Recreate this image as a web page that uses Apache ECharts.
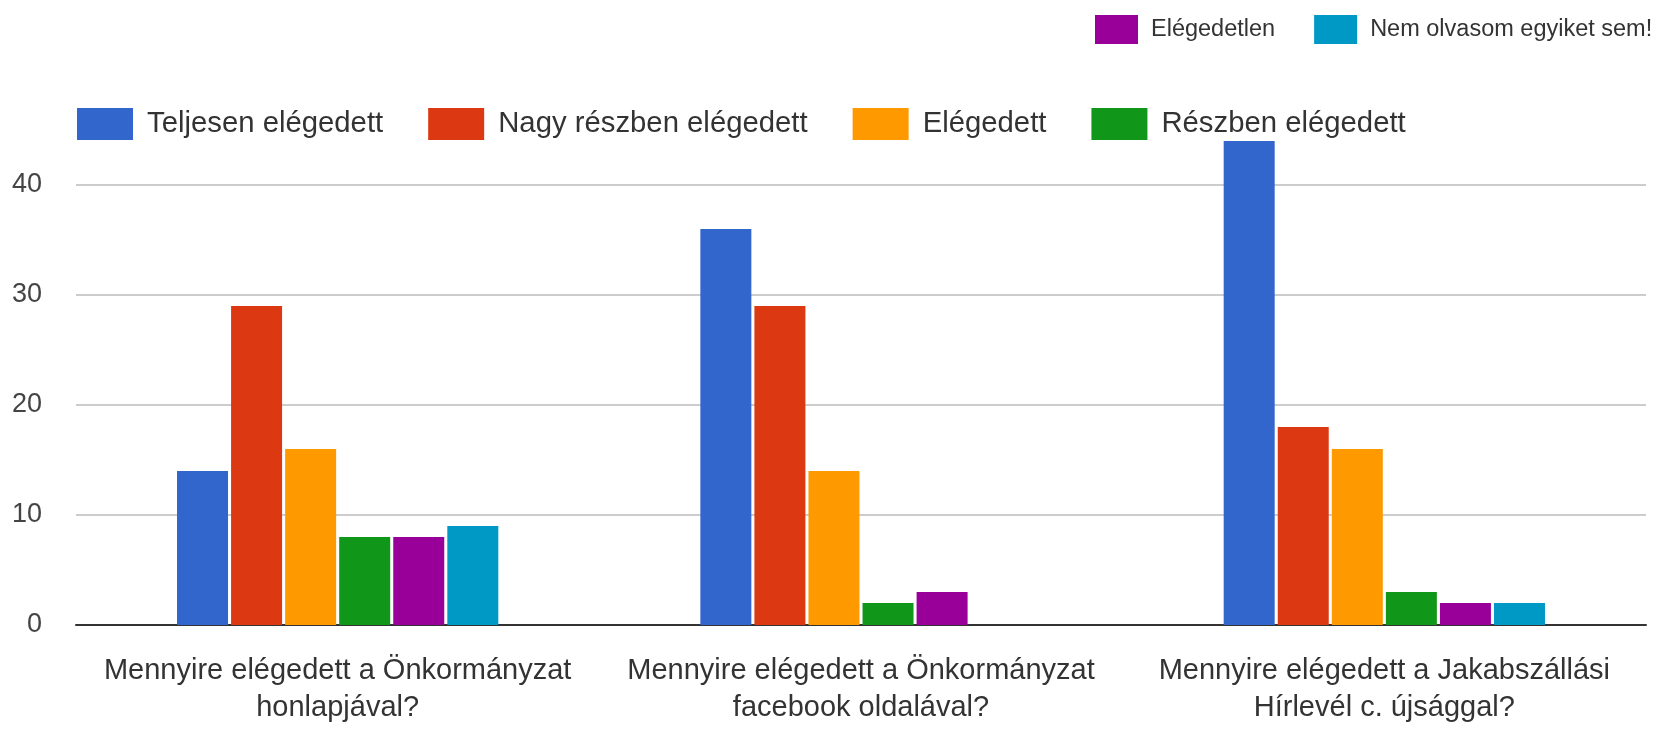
<!DOCTYPE html>
<html>
<head>
<meta charset="utf-8">
<script src="https://cdn.jsdelivr.net/npm/echarts@6/dist/echarts.min.js"></script>
<style>
  html, body { margin: 0; padding: 0; background: #fff; }
  #chart { width: 1659px; height: 729px; }
</style>
</head>
<body>
<div id="chart"></div>
<script>
const categories = [
  'Mennyire elégedett a Önkormányzat\nhonlapjával?',
  'Mennyire elégedett a Önkormányzat\nfacebook oldalával?',
  'Mennyire elégedett a Jakabszállási\nHírlevél c. újsággal?'
];
const seriesNames = [
  'Teljesen elégedett',
  'Nagy részben elégedett',
  'Elégedett',
  'Részben elégedett',
  'Elégedetlen',
  'Nem olvasom egyiket sem!'
];
const teljesen = [14, 36, 44];
const nagyReszben = [29, 29, 18];
const elegedett = [16, 14, 16];
const reszben = [8, 2, 3];
const elegedetlen = [8, 3, 2];
const nemOlvasom = [9, 0, 2];
const colors = ['#3366cc', '#dc3912', '#ff9900', '#109618', '#990099', '#0099c6'];

const values = [teljesen, nagyReszben, elegedett, reszben, elegedetlen, nemOlvasom];
const font = '"Liberation Sans", Arial, sans-serif';

let chart = echarts.init(document.getElementById('chart'));

const series = seriesNames.map(function (name, i) {
  return {
    name: name,
    type: 'bar',
    data: values[i],
    barWidth: 51,
    barGap: '6%',
    itemStyle: { color: colors[i] }
  };
});

chart.setOption({
  animation: false,
  color: colors,
  textStyle: { fontFamily: font },
  legend: [
    {
      data: seriesNames.slice(4),
      left: 1090,
      top: 10,
      itemWidth: 43,
      itemHeight: 29,
      itemGap: 39,
      icon: 'rect',
      textStyle: { fontSize: 23.5, color: '#333', fontFamily: font, padding: [0, 0, 0, 8] }
    },
    {
      data: seriesNames.slice(0, 4),
      left: 72,
      top: 103,
      itemWidth: 56,
      itemHeight: 32,
      itemGap: 45,
      icon: 'rect',
      textStyle: { fontSize: 29.3, color: '#333', fontFamily: font, padding: [0, 0, 0, 9] }
    }
  ],
  grid: { left: 76, right: 13, top: 130, bottom: 104, containLabel: false },
  xAxis: {
    type: 'category',
    data: categories,
    axisTick: { show: false },
    axisLine: { lineStyle: { color: '#333', width: 2 } },
    axisLabel: {
      fontSize: 29,
      lineHeight: 37,
      color: '#333',
      margin: 27,
      fontFamily: font,
      interval: 0
    }
  },
  yAxis: {
    type: 'value',
    min: 0,
    max: 45,
    interval: 10,
    axisLine: { show: false },
    axisTick: { show: false },
    axisLabel: {
      fontSize: 27,
      color: '#444',
      margin: 34,
      fontFamily: font,
      showMaxLabel: false
    },
    splitLine: {
      showMaxLine: false,
      lineStyle: { color: '#cccccc', width: 2 }
    }
  },
  series: series
});
</script>
</body>
</html>
